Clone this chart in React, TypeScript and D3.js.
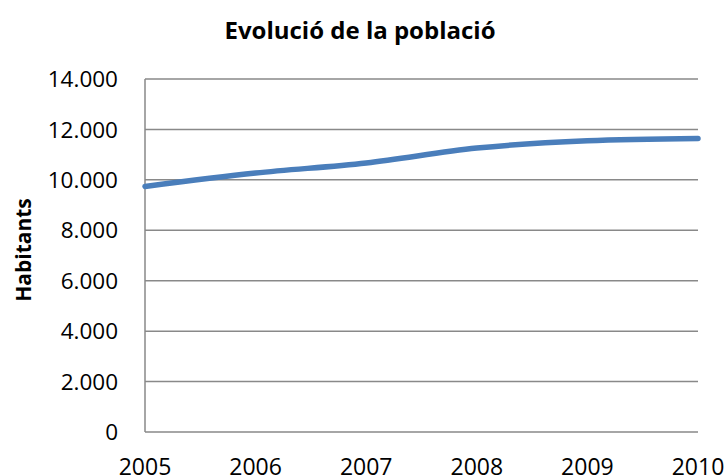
import React from "react";
import * as d3 from "d3";

const years = [2005, 2006, 2007, 2008, 2009, 2010];
const population = [9740, 10270, 10670, 11260, 11550, 11640];
const yTicks = [0, 2000, 4000, 6000, 8000, 10000, 12000, 14000];
const title = "Evolució de la població";
const yTitle = "Habitants";

const W = 724;
const H = 476;
const M = { left: 145, right: 26, top: 79, bottom: 44 };

const fmt = (v: number) => d3.format(",")(v).replace(/,/g, ".");

export default function App() {
  const x = d3.scaleLinear().domain([2005, 2010]).range([M.left, W - M.right]);
  const y = d3.scaleLinear().domain([0, 14000]).range([H - M.bottom, M.top]);
  const line = d3
    .line<number>()
    .x((_, i) => x(years[i]))
    .y((d) => y(d))
    .curve(d3.curveCatmullRom.alpha(0.5));
  const font = "'Open Sans', 'Liberation Sans', sans-serif";
  return (
    <svg
      width={W}
      height={H}
      style={{ position: "absolute", left: 0, top: 0, background: "#fff" }}
      fontFamily={font}
    >
      <text x={360} y={39} textAnchor="middle" fontSize={24} fontWeight="bold" fill="#000">
        {title}
      </text>
      {yTicks.map((t) => (
        <g key={t}>
          <line
            x1={M.left}
            x2={W - M.right}
            y1={y(t)}
            y2={y(t)}
            stroke="#898989"
            strokeWidth={1.5}
          />
          <text x={118} y={y(t)} dy="0.36em" textAnchor="end" fontSize={22.5} fill="#000">
            {fmt(t)}
          </text>
        </g>
      ))}
      <line x1={M.left} x2={M.left} y1={M.top} y2={H - M.bottom} stroke="#898989" strokeWidth={1.5} />
      {years.map((yr) => (
        <text key={yr} x={x(yr)} y={475} textAnchor="middle" fontSize={23} fill="#000">
          {yr}
        </text>
      ))}
      <text
        transform={`translate(31, ${250}) rotate(-90)`}
        textAnchor="middle"
        fontSize={21}
        fontWeight="bold"
        fill="#000"
      >
        {yTitle}
      </text>
      <path
        d={line(population) || ""}
        fill="none"
        stroke="#4a7ebb"
        strokeWidth={5.5}
        strokeLinecap="round"
      />
    </svg>
  );
}
